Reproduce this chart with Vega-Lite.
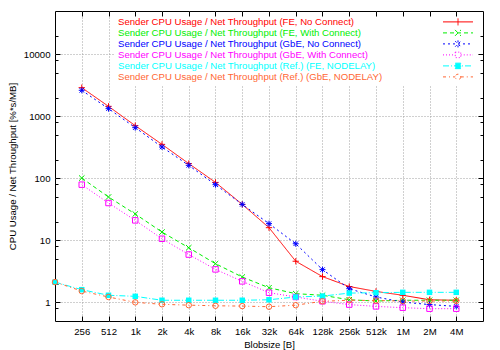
{
  "$schema": "https://vega.github.io/schema/vega-lite/v6.json",
  "width": 428,
  "height": 310,
  "autosize": {"type": "none"},
  "padding": {"left": 55, "top": 11, "right": 17, "bottom": 29},
  "background": "white",
  "config": {
    "view": {"stroke": "#000000", "strokeWidth": 1},
    "font": "Liberation Sans",
    "axis": {"labelFont": "Liberation Sans", "titleFont": "Liberation Sans", "labelFontSize": 9.6, "titleFontSize": 9.6, "titleFontWeight": "normal", "labelColor": "#000000", "titleColor": "#000000", "tickColor": "#000000", "domain": false}
  },
  "datasets": {
    "d": [
      {"series": "Sender CPU Usage / Net Throughput (FE, No Connect)", "size": 256, "value": 2900},
      {"series": "Sender CPU Usage / Net Throughput (FE, No Connect)", "size": 512, "value": 1450},
      {"series": "Sender CPU Usage / Net Throughput (FE, No Connect)", "size": 1024, "value": 707},
      {"series": "Sender CPU Usage / Net Throughput (FE, No Connect)", "size": 2048, "value": 353},
      {"series": "Sender CPU Usage / Net Throughput (FE, No Connect)", "size": 4096, "value": 173},
      {"series": "Sender CPU Usage / Net Throughput (FE, No Connect)", "size": 8192, "value": 86},
      {"series": "Sender CPU Usage / Net Throughput (FE, No Connect)", "size": 16384, "value": 38},
      {"series": "Sender CPU Usage / Net Throughput (FE, No Connect)", "size": 32768, "value": 16},
      {"series": "Sender CPU Usage / Net Throughput (FE, No Connect)", "size": 65536, "value": 4.6},
      {"series": "Sender CPU Usage / Net Throughput (FE, No Connect)", "size": 131072, "value": 2.6},
      {"series": "Sender CPU Usage / Net Throughput (FE, No Connect)", "size": 262144, "value": 1.8},
      {"series": "Sender CPU Usage / Net Throughput (FE, No Connect)", "size": 524288, "value": 1.5},
      {"series": "Sender CPU Usage / Net Throughput (FE, No Connect)", "size": 1048576, "value": 1.3},
      {"series": "Sender CPU Usage / Net Throughput (FE, No Connect)", "size": 2097152, "value": 1.1},
      {"series": "Sender CPU Usage / Net Throughput (FE, No Connect)", "size": 4194304, "value": 1.08},

      {"series": "Sender CPU Usage / Net Throughput (FE, With Connect)", "size": 256, "value": 101},
      {"series": "Sender CPU Usage / Net Throughput (FE, With Connect)", "size": 512, "value": 50},
      {"series": "Sender CPU Usage / Net Throughput (FE, With Connect)", "size": 1024, "value": 26.6},
      {"series": "Sender CPU Usage / Net Throughput (FE, With Connect)", "size": 2048, "value": 13.6},
      {"series": "Sender CPU Usage / Net Throughput (FE, With Connect)", "size": 4096, "value": 7.6},
      {"series": "Sender CPU Usage / Net Throughput (FE, With Connect)", "size": 8192, "value": 4.2},
      {"series": "Sender CPU Usage / Net Throughput (FE, With Connect)", "size": 16384, "value": 2.56},
      {"series": "Sender CPU Usage / Net Throughput (FE, With Connect)", "size": 32768, "value": 1.72},
      {"series": "Sender CPU Usage / Net Throughput (FE, With Connect)", "size": 65536, "value": 1.38},
      {"series": "Sender CPU Usage / Net Throughput (FE, With Connect)", "size": 131072, "value": 1.3},
      {"series": "Sender CPU Usage / Net Throughput (FE, With Connect)", "size": 262144, "value": 1.1},
      {"series": "Sender CPU Usage / Net Throughput (FE, With Connect)", "size": 524288, "value": 1.05},
      {"series": "Sender CPU Usage / Net Throughput (FE, With Connect)", "size": 1048576, "value": 1.08},
      {"series": "Sender CPU Usage / Net Throughput (FE, With Connect)", "size": 2097152, "value": 1.08},
      {"series": "Sender CPU Usage / Net Throughput (FE, With Connect)", "size": 4194304, "value": 1.08},

      {"series": "Sender CPU Usage / Net Throughput (GbE, No Connect)", "size": 256, "value": 2630},
      {"series": "Sender CPU Usage / Net Throughput (GbE, No Connect)", "size": 512, "value": 1330},
      {"series": "Sender CPU Usage / Net Throughput (GbE, No Connect)", "size": 1024, "value": 657},
      {"series": "Sender CPU Usage / Net Throughput (GbE, No Connect)", "size": 2048, "value": 320},
      {"series": "Sender CPU Usage / Net Throughput (GbE, No Connect)", "size": 4096, "value": 162},
      {"series": "Sender CPU Usage / Net Throughput (GbE, No Connect)", "size": 8192, "value": 79},
      {"series": "Sender CPU Usage / Net Throughput (GbE, No Connect)", "size": 16384, "value": 38},
      {"series": "Sender CPU Usage / Net Throughput (GbE, No Connect)", "size": 32768, "value": 18.6},
      {"series": "Sender CPU Usage / Net Throughput (GbE, No Connect)", "size": 65536, "value": 8.8},
      {"series": "Sender CPU Usage / Net Throughput (GbE, No Connect)", "size": 131072, "value": 3.37},
      {"series": "Sender CPU Usage / Net Throughput (GbE, No Connect)", "size": 262144, "value": 1.66},
      {"series": "Sender CPU Usage / Net Throughput (GbE, No Connect)", "size": 524288, "value": 1.22},
      {"series": "Sender CPU Usage / Net Throughput (GbE, No Connect)", "size": 1048576, "value": 1.01},
      {"series": "Sender CPU Usage / Net Throughput (GbE, No Connect)", "size": 2097152, "value": 0.92},
      {"series": "Sender CPU Usage / Net Throughput (GbE, No Connect)", "size": 4194304, "value": 0.86},

      {"series": "Sender CPU Usage / Net Throughput (GbE, With Connect)", "size": 256, "value": 79},
      {"series": "Sender CPU Usage / Net Throughput (GbE, With Connect)", "size": 512, "value": 40},
      {"series": "Sender CPU Usage / Net Throughput (GbE, With Connect)", "size": 1024, "value": 21},
      {"series": "Sender CPU Usage / Net Throughput (GbE, With Connect)", "size": 2048, "value": 10.6},
      {"series": "Sender CPU Usage / Net Throughput (GbE, With Connect)", "size": 4096, "value": 5.9},
      {"series": "Sender CPU Usage / Net Throughput (GbE, With Connect)", "size": 8192, "value": 3.4},
      {"series": "Sender CPU Usage / Net Throughput (GbE, With Connect)", "size": 16384, "value": 2.18},
      {"series": "Sender CPU Usage / Net Throughput (GbE, With Connect)", "size": 32768, "value": 1.43},
      {"series": "Sender CPU Usage / Net Throughput (GbE, With Connect)", "size": 65536, "value": 1.22},
      {"series": "Sender CPU Usage / Net Throughput (GbE, With Connect)", "size": 131072, "value": 1.04},
      {"series": "Sender CPU Usage / Net Throughput (GbE, With Connect)", "size": 262144, "value": 0.92},
      {"series": "Sender CPU Usage / Net Throughput (GbE, With Connect)", "size": 524288, "value": 0.86},
      {"series": "Sender CPU Usage / Net Throughput (GbE, With Connect)", "size": 1048576, "value": 0.82},
      {"series": "Sender CPU Usage / Net Throughput (GbE, With Connect)", "size": 2097152, "value": 0.79},
      {"series": "Sender CPU Usage / Net Throughput (GbE, With Connect)", "size": 4194304, "value": 0.79},

      {"series": "Sender CPU Usage / Net Throughput (Ref.) (FE, NODELAY)", "size": 128, "value": 2.12},
      {"series": "Sender CPU Usage / Net Throughput (Ref.) (FE, NODELAY)", "size": 256, "value": 1.6},
      {"series": "Sender CPU Usage / Net Throughput (Ref.) (FE, NODELAY)", "size": 512, "value": 1.3},
      {"series": "Sender CPU Usage / Net Throughput (Ref.) (FE, NODELAY)", "size": 1024, "value": 1.25},
      {"series": "Sender CPU Usage / Net Throughput (Ref.) (FE, NODELAY)", "size": 2048, "value": 1.08},
      {"series": "Sender CPU Usage / Net Throughput (Ref.) (FE, NODELAY)", "size": 4096, "value": 1.08},
      {"series": "Sender CPU Usage / Net Throughput (Ref.) (FE, NODELAY)", "size": 8192, "value": 1.08},
      {"series": "Sender CPU Usage / Net Throughput (Ref.) (FE, NODELAY)", "size": 16384, "value": 1.08},
      {"series": "Sender CPU Usage / Net Throughput (Ref.) (FE, NODELAY)", "size": 32768, "value": 1.1},
      {"series": "Sender CPU Usage / Net Throughput (Ref.) (FE, NODELAY)", "size": 65536, "value": 1.22},
      {"series": "Sender CPU Usage / Net Throughput (Ref.) (FE, NODELAY)", "size": 131072, "value": 1.26},
      {"series": "Sender CPU Usage / Net Throughput (Ref.) (FE, NODELAY)", "size": 262144, "value": 1.41},
      {"series": "Sender CPU Usage / Net Throughput (Ref.) (FE, NODELAY)", "size": 524288, "value": 1.43},
      {"series": "Sender CPU Usage / Net Throughput (Ref.) (FE, NODELAY)", "size": 1048576, "value": 1.45},
      {"series": "Sender CPU Usage / Net Throughput (Ref.) (FE, NODELAY)", "size": 2097152, "value": 1.45},
      {"series": "Sender CPU Usage / Net Throughput (Ref.) (FE, NODELAY)", "size": 4194304, "value": 1.45},

      {"series": "Sender CPU Usage / Net Throughput (Ref.) (GbE, NODELAY)", "size": 128, "value": 2.12},
      {"series": "Sender CPU Usage / Net Throughput (Ref.) (GbE, NODELAY)", "size": 256, "value": 1.52},
      {"series": "Sender CPU Usage / Net Throughput (Ref.) (GbE, NODELAY)", "size": 512, "value": 1.22},
      {"series": "Sender CPU Usage / Net Throughput (Ref.) (GbE, NODELAY)", "size": 1024, "value": 1.0},
      {"series": "Sender CPU Usage / Net Throughput (Ref.) (GbE, NODELAY)", "size": 2048, "value": 0.93},
      {"series": "Sender CPU Usage / Net Throughput (Ref.) (GbE, NODELAY)", "size": 4096, "value": 0.9},
      {"series": "Sender CPU Usage / Net Throughput (Ref.) (GbE, NODELAY)", "size": 8192, "value": 0.88},
      {"series": "Sender CPU Usage / Net Throughput (Ref.) (GbE, NODELAY)", "size": 16384, "value": 0.87},
      {"series": "Sender CPU Usage / Net Throughput (Ref.) (GbE, NODELAY)", "size": 32768, "value": 0.85},
      {"series": "Sender CPU Usage / Net Throughput (Ref.) (GbE, NODELAY)", "size": 65536, "value": 0.9},
      {"series": "Sender CPU Usage / Net Throughput (Ref.) (GbE, NODELAY)", "size": 131072, "value": 1.04},
      {"series": "Sender CPU Usage / Net Throughput (Ref.) (GbE, NODELAY)", "size": 262144, "value": 1.08},
      {"series": "Sender CPU Usage / Net Throughput (Ref.) (GbE, NODELAY)", "size": 524288, "value": 1.07},
      {"series": "Sender CPU Usage / Net Throughput (Ref.) (GbE, NODELAY)", "size": 1048576, "value": 1.05},
      {"series": "Sender CPU Usage / Net Throughput (Ref.) (GbE, NODELAY)", "size": 2097152, "value": 1.05},
      {"series": "Sender CPU Usage / Net Throughput (Ref.) (GbE, NODELAY)", "size": 4194304, "value": 1.05}
    ]
  },
  "data": {"name": "d"},
  "resolve": {"axis": {"x": "independent", "y": "independent"}},
  "encoding": {
    "x": {"field": "size", "type": "quantitative", "scale": {"type": "log", "base": 2, "domain": [128, 8388608], "nice": false}},
    "y": {"field": "value", "type": "quantitative", "scale": {"type": "log", "domain": [0.5, 50000], "nice": false}}
  },
  "layer": [
    {
      "mark": {"type": "line", "strokeWidth": 1, "clip": true},
      "encoding": {
        "x": {
          "field": "size", "type": "quantitative",
          "axis": {
            "orient": "bottom",
            "values": [256, 512, 1024, 2048, 4096, 8192, 16384, 32768, 65536, 131072, 262144, 524288, 1048576, 2097152, 4194304],
            "labelExpr": "datum.value >= 1048576 ? (datum.value / 1048576) + 'M' : datum.value >= 1024 ? (datum.value / 1024) + 'k' : '' + datum.value",
            "title": "Blobsize [B]",
            "grid": true, "gridDash": [1, 2], "gridColor": "#a0a0a0", "gridWidth": 1,
            "tickSize": -5, "labelPadding": 10, "titlePadding": 4, "labelFlush": false, "labelOverlap": false
          }
        },
        "y": {
          "field": "value", "type": "quantitative",
          "axis": {
            "orient": "left",
            "values": [0.8, 1, 2, 5, 8, 10, 20, 50, 80, 100, 200, 500, 800, 1000, 2000, 5000, 8000, 10000, 20000],
            "labelExpr": "indexof([1, 10, 100, 1000, 10000], datum.value) >= 0 ? '' + datum.value : ''",
            "title": "CPU Usage / Net Throughput [%*s/MB]",
            "grid": true, "gridDash": [1, 2], "gridColor": "#a0a0a0",
            "gridOpacity": {"condition": {"test": "indexof([1, 10, 100, 1000, 10000], datum.value) >= 0", "value": 1}, "value": 0},
            "tickSize": {"condition": {"test": "indexof([1, 10, 100, 1000, 10000], datum.value) >= 0", "value": -5}, "value": -3},
            "labelPadding": 10, "titlePadding": 6, "labelOverlap": false, "labelFlush": false
          }
        },
        "color": {
          "field": "series", "type": "nominal",
          "scale": {
            "domain": [
              "Sender CPU Usage / Net Throughput (FE, No Connect)",
              "Sender CPU Usage / Net Throughput (FE, With Connect)",
              "Sender CPU Usage / Net Throughput (GbE, No Connect)",
              "Sender CPU Usage / Net Throughput (GbE, With Connect)",
              "Sender CPU Usage / Net Throughput (Ref.) (FE, NODELAY)",
              "Sender CPU Usage / Net Throughput (Ref.) (GbE, NODELAY)"
            ],
            "range": ["#ff0000", "#00ee00", "#0000ff", "#ff00ff", "#00ffff", "#ff6633"]
          },
          "legend": {
            "orient": "none", "legendX": 60, "legendY": 2.4, "padding": 3, "rowPadding": -1.3,
            "title": null, "symbolSize": 100, "symbolStrokeWidth": 1,
            "labelFont": "Liberation Sans", "labelFontSize": 9.6, "labelOffset": -11, "labelLimit": 400,
            "fillColor": "white", "strokeColor": null,
            "encode": {
              "labels": {"update": {"fill": {"scale": "color", "field": "value"}}},
              "symbols": {"update": {
                "shape": {"signal": "datum.index === 0 ? 'M63.9,0H69.9M66.9,-0.7V0.7' : datum.index === 1 ? 'M63.9,0H69.9M66.3,-0.6L67.5,0.6M66.3,0.6L67.5,-0.6' : datum.index === 2 ? 'M63.9,0H69.9M66.9,-0.7V0.7M66.35,-0.55L67.45,0.55M66.35,0.55L67.45,-0.55' : datum.index === 3 ? 'M63.9,0H66.35M67.45,0H69.9M66.35,-0.55H67.45V0.55H66.35Z' : datum.index === 4 ? 'M63.9,0H69.9M66.35,-0.55H67.45V0.55H66.35Z' : 'M63.9,0H66.35M67.45,0H69.9M67.45,0A0.55,0.55 0 1,1 66.35,0A0.55,0.55 0 1,1 67.45,0'"},
                "fill": {"signal": "datum.index === 4 ? '#00ffff' : 'transparent'"}
              }}
            }
          }
        },
        "strokeDash": {
          "field": "series", "type": "nominal",
          "scale": {
            "domain": [
              "Sender CPU Usage / Net Throughput (FE, No Connect)",
              "Sender CPU Usage / Net Throughput (FE, With Connect)",
              "Sender CPU Usage / Net Throughput (GbE, No Connect)",
              "Sender CPU Usage / Net Throughput (GbE, With Connect)",
              "Sender CPU Usage / Net Throughput (Ref.) (FE, NODELAY)",
              "Sender CPU Usage / Net Throughput (Ref.) (GbE, NODELAY)"
            ],
            "range": [[1, 0], [4, 3], [2, 3], [1, 2], [6, 2, 1, 2], [3, 3, 1, 3]]
          }
        }
      }
    },
    {
      "transform": [{"filter": "indexof(datum.series, '(FE, No Connect)') >= 0"}],
      "mark": {"type": "point", "filled": false, "strokeWidth": 1, "size": 40, "opacity": 1, "color": "#ff0000", "shape": "M-1,0H1M0,-1V1"},
      "encoding": {
        "x": {
          "field": "size", "type": "quantitative",
          "axis": {
            "orient": "top", "zindex": 2,
            "values": [256, 512, 1024, 2048, 4096, 8192, 16384, 32768, 65536, 131072, 262144, 524288, 1048576, 2097152, 4194304],
            "labels": false, "title": null, "grid": false, "tickSize": -5
          }
        },
        "y": {
          "field": "value", "type": "quantitative",
          "axis": {
            "orient": "right", "zindex": 2,
            "values": [0.8, 1, 2, 5, 8, 10, 20, 50, 80, 100, 200, 500, 800, 1000, 2000, 5000, 8000, 10000, 20000],
            "labels": false, "title": null, "grid": false,
            "tickSize": {"condition": {"test": "indexof([1, 10, 100, 1000, 10000], datum.value) >= 0", "value": -5}, "value": -3}
          }
        }
      }
    },
    {
      "transform": [{"filter": "indexof(datum.series, '(FE, With Connect)') >= 0"}],
      "mark": {"type": "point", "filled": false, "strokeWidth": 1, "size": 30, "opacity": 1, "color": "#00ee00", "shape": "M-1,-1L1,1M-1,1L1,-1"},
      "encoding": {"x": {"field": "size", "type": "quantitative", "axis": null}, "y": {"field": "value", "type": "quantitative", "axis": null}}
    },
    {
      "transform": [{"filter": "indexof(datum.series, '(GbE, No Connect)') >= 0"}],
      "mark": {"type": "point", "filled": false, "strokeWidth": 1, "size": 36, "opacity": 1, "color": "#0000ff", "shape": "M-1,0H1M0,-1V1M-0.75,-0.75L0.75,0.75M-0.75,0.75L0.75,-0.75"},
      "encoding": {"x": {"field": "size", "type": "quantitative", "axis": null}, "y": {"field": "value", "type": "quantitative", "axis": null}}
    },
    {
      "transform": [{"filter": "indexof(datum.series, '(GbE, With Connect)') >= 0"}],
      "mark": {"type": "point", "filled": false, "strokeWidth": 1, "size": 30, "opacity": 1, "color": "#ff00ff", "shape": "square"},
      "encoding": {"x": {"field": "size", "type": "quantitative", "axis": null}, "y": {"field": "value", "type": "quantitative", "axis": null}}
    },
    {
      "transform": [{"filter": "indexof(datum.series, '(FE, NODELAY)') >= 0"}],
      "mark": {"type": "point", "filled": true, "strokeWidth": 1, "size": 30, "opacity": 1, "color": "#00ffff", "shape": "square"},
      "encoding": {"x": {"field": "size", "type": "quantitative", "axis": null}, "y": {"field": "value", "type": "quantitative", "axis": null}}
    },
    {
      "transform": [{"filter": "indexof(datum.series, '(GbE, NODELAY)') >= 0"}],
      "mark": {"type": "point", "filled": false, "strokeWidth": 1, "size": 30, "opacity": 1, "color": "#ff6633", "shape": "circle"},
      "encoding": {"x": {"field": "size", "type": "quantitative", "axis": null}, "y": {"field": "value", "type": "quantitative", "axis": null}}
    }
  ]
}
